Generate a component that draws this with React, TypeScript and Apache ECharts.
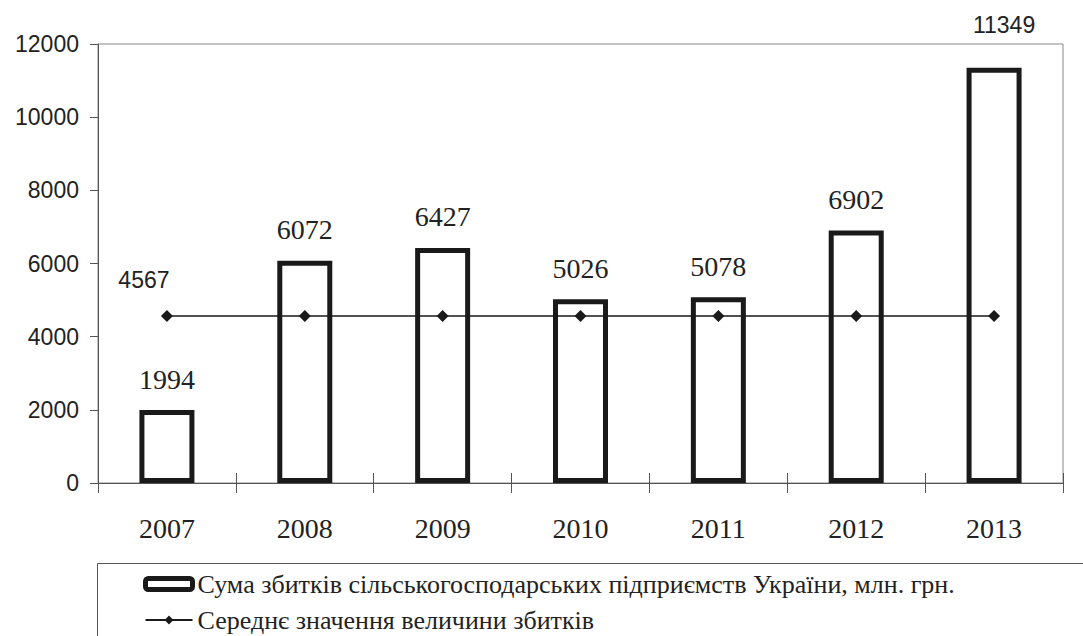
import React, { useEffect, useRef } from "react";
import * as echarts from "echarts";

const years = ["2007", "2008", "2009", "2010", "2011", "2012", "2013"];
const losses = [1994, 6072, 6427, 5026, 5078, 6902, 11349];
const average = [4567, 4567, 4567, 4567, 4567, 4567, 4567];
const yTicks = { min: 0, max: 12000, interval: 2000 };
const barName = "Сума збитків сільськогосподарських підприємств України, млн. грн.";
const lineName = "Середнє значення величини збитків";

const SERIF = "Liberation Serif";
const SANS = "Liberation Sans";

export default function App() {
  const ref = useRef<HTMLDivElement>(null);
  useEffect(() => {
    if (!ref.current) return;
    const chart = echarts.init(ref.current, undefined, { renderer: "svg" });
    const barData = losses.map((v, i) =>
      i === losses.length - 1
        ? { value: v, label: { fontFamily: SANS, fontSize: 23, distance: 31, offset: [10, 0] } }
        : v
    );
    const lineData = average.map((v, i) =>
      i === 0
        ? { value: v, label: { show: true, position: "top", offset: [-23, -13], fontFamily: SANS, fontSize: 23, color: "#222" } }
        : v
    );
    chart.setOption({
      animation: false,
      backgroundColor: "#fff",
      grid: { left: 98, right: 20, top: 44, bottom: 153, show: true, borderColor: "#888", borderWidth: 1 },
      graphic: [
        {
          type: "rect",
          shape: { x: 97.5, y: 563.5, width: 1100, height: 200 },
          style: { fill: "none", stroke: "#555", lineWidth: 1 },
          z: 0,
        },
      ],
      legend: {
        orient: "vertical",
        left: 143,
        top: 571,
        height: 65,
        padding: 0,
        itemWidth: 47,
        itemHeight: 11,
        itemGap: 10,
        textStyle: { fontFamily: SERIF, fontSize: 26, color: "#222" },
        data: [
          { name: barName, icon: "roundRect", itemStyle: { color: "#fff", borderColor: "#1a1a1a", borderWidth: 5 } },
          { name: lineName },
        ],
      },
      xAxis: [
        {
          type: "category",
          data: years,
          boundaryGap: true,
          axisLine: { lineStyle: { color: "#555", width: 1 } },
          axisTick: { show: true, length: 10, lineStyle: { color: "#555" } },
          axisLabel: { fontFamily: SERIF, fontSize: 28, color: "#222", margin: 31 },
        },
        {
          type: "category",
          data: years,
          position: "bottom",
          boundaryGap: true,
          axisLine: { show: false },
          axisTick: { show: true, inside: true, length: 10, lineStyle: { color: "#555" } },
          axisLabel: { show: false },
        },
      ],
      yAxis: {
        type: "value",
        min: yTicks.min,
        max: yTicks.max,
        interval: yTicks.interval,
        splitLine: { show: false },
        axisLine: { show: true, lineStyle: { color: "#555", width: 1 } },
        axisTick: { show: true, length: 8, lineStyle: { color: "#555" } },
        axisLabel: { fontFamily: SANS, fontSize: 23, color: "#222", margin: 19, formatter: (v: number) => String(v) },
      },
      series: [
        {
          name: barName,
          type: "bar",
          data: barData,
          barWidth: 55,
          itemStyle: { color: "#fff", borderColor: "#1a1a1a", borderWidth: 5 },
          label: { show: true, position: "top", distance: 17, fontFamily: SERIF, fontSize: 28, color: "#222" },
          z: 2,
        },
        {
          name: lineName,
          type: "line",
          data: lineData,
          symbol: "diamond",
          symbolSize: 12,
          lineStyle: { color: "#1a1a1a", width: 1.5 },
          itemStyle: { color: "#1a1a1a" },
          label: { show: false },
          z: 3,
        },
      ],
    });
    return () => chart.dispose();
  }, []);
  return <div ref={ref} style={{ position: "fixed", left: 0, top: 0, width: 1083, height: 636 }} />;
}
